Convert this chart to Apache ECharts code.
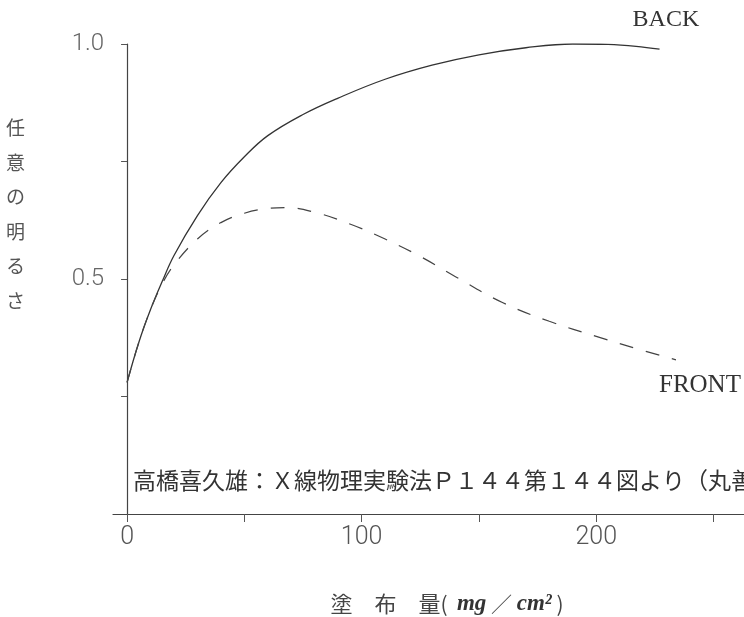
<!DOCTYPE html>
<html>
<head>
<meta charset="utf-8">
<script src="https://cdn.jsdelivr.net/npm/echarts@6/dist/echarts.min.js"></script>
<style>html,body{margin:0;padding:0;background:#fff;}#c{width:744px;height:617px;}</style>
</head>
<body>
<div id="c"></div>
<script>
// Data
const backX  = [0, 5, 10, 15, 20, 30, 40, 50, 60, 75, 90, 110, 130, 150, 170, 190, 205, 217, 227];
const backY  = [0.28, 0.365, 0.435, 0.495, 0.55, 0.635, 0.705, 0.76, 0.805, 0.85, 0.885, 0.925, 0.955, 0.977, 0.992, 1.0, 0.999, 0.995, 0.989];
const frontX = [0, 5, 10, 15, 20, 30, 40, 50, 60, 68, 80, 95, 110, 125, 140, 160, 180, 200, 215, 234];
const frontY = [0.28, 0.365, 0.435, 0.49, 0.53, 0.585, 0.62, 0.64, 0.65, 0.652, 0.642, 0.617, 0.585, 0.548, 0.505, 0.45, 0.41, 0.378, 0.355, 0.328];
const xTicks = [0, 50, 100, 150, 200, 250];
const xLabels = [0, 100, 200];
const yTicks = [0.25, 0.5, 0.75, 1.0];
const yLabels = [0.5, 1.0];
const seriesNames = ['BACK', 'FRONT'];

const zip = (xs, ys) => xs.map((x, i) => [x, ys[i]]);
const chart = echarts.init(document.getElementById('c'));
chart.setOption({
  backgroundColor: '#fff',
  animation: false,
  grid: { left: 113, right: 0, top: 44, bottom: 103 },
  xAxis: {
    type: 'value', min: -6, max: 263,
    axisLine: { show: true, onZero: true, lineStyle: { color: '#444', width: 1.2 } },
    axisTick: { show: true, customValues: xTicks, length: 8, inside: false, lineStyle: { color: '#555' } },
    axisLabel: { customValues: xLabels, margin: 11, fontSize: 25, color: '#555', fontWeight: 300,
      fontFamily: 'Roboto,sans-serif' },
    splitLine: { show: false }
  },
  yAxis: {
    type: 'value', min: 0, max: 1,
    axisLine: { show: true, onZero: true, lineStyle: { color: '#444', width: 1.2 } },
    axisTick: { show: true, customValues: yTicks, length: 6, lineStyle: { color: '#555' } },
    axisLabel: { customValues: yLabels, margin: 9, fontSize: 24, color: '#666', fontWeight: 300,
      fontFamily: 'Roboto,sans-serif', formatter: v => v.toFixed(1) },
    splitLine: { show: false }
  },
  series: [
    {
      name: seriesNames[0], type: 'line', smooth: 0.4, showSymbol: false,
      data: zip(backX, backY),
      lineStyle: { color: '#333', width: 1.3 },
      endLabel: { show: true, formatter: seriesNames[0], distance: 0, offset: [-27, -29],
        fontFamily: '"Liberation Serif",serif', fontSize: 24, color: '#333' }
    },
    {
      name: seriesNames[1], type: 'line', smooth: 0.4, showSymbol: false,
      data: zip(frontX, frontY),
      lineStyle: { color: '#444', width: 1.2, type: [14, 13] },
      endLabel: { show: true, formatter: seriesNames[1], distance: 0, offset: [-17, 26],
        fontFamily: '"Liberation Serif",serif', fontSize: 25, color: '#333' }
    }
  ],
  graphic: [
    { type: 'text', left: 6, top: 111,
      style: { text: '任\n意\nの\n明\nる\nさ', fontSize: 19, lineHeight: 34.5, fill: '#555',
        fontFamily: '"Noto Sans CJK JP",sans-serif' } },
    { type: 'text', x: 133, y: 480,
      style: { text: '高橋喜久雄：Ｘ線物理実験法Ｐ１４４第１４４図より（丸善）', fontSize: 23,
        fill: '#333', verticalAlign: 'middle', fontFamily: '"Noto Sans CJK JP",sans-serif' } },
    { type: 'text', x: 447, y: 604,
      style: {
        text: '{a|塗　布　量}{p|(  }{b|mg}{p| ／ }{b|cm²}{p| )}',
        align: 'center', verticalAlign: 'middle',
        rich: {
          a: { fontSize: 22, fill: '#444', fontFamily: '"Noto Sans CJK JP",sans-serif' },
          p: { fontSize: 21, fill: '#444', fontFamily: '"Noto Sans CJK JP",sans-serif' },
          b: { fontSize: 23, fill: '#333', fontStyle: 'italic', fontWeight: 'bold', fontFamily: '"Liberation Serif",serif' }
        }
      } }
  ]
});
</script>
</body>
</html>
